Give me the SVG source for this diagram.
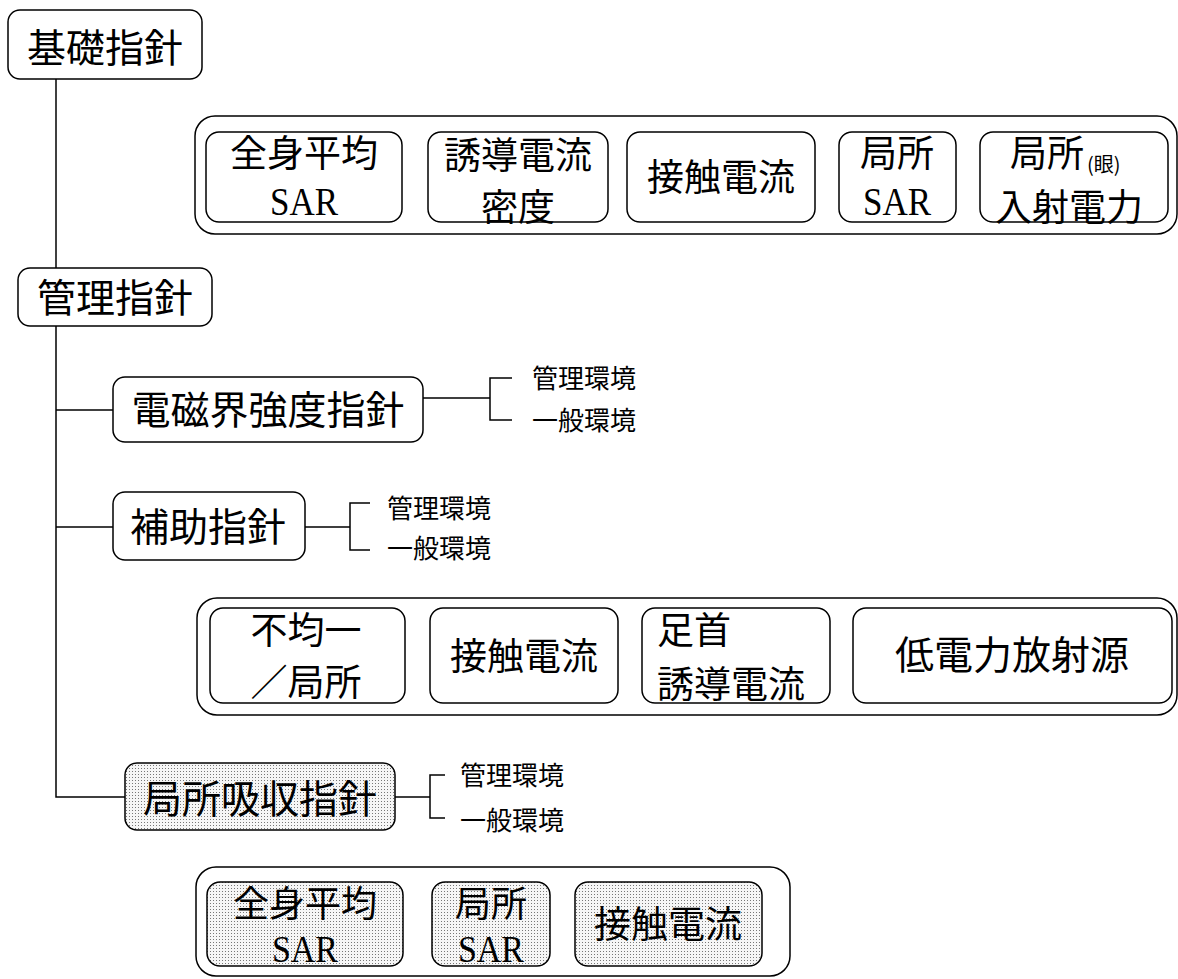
<svg xmlns="http://www.w3.org/2000/svg" width="1178" height="979" viewBox="0 0 1178 979">
<defs>
<pattern id="dots" width="3" height="3" patternUnits="userSpaceOnUse">
<rect width="3" height="3" fill="#f6f6f6"/>
<rect width="1" height="1" fill="#777"/>
</pattern>
</defs>
<style>
.box{fill:#fff;stroke:#000;stroke-width:1.5}
.sh{fill:url(#dots);stroke:#000;stroke-width:1.5}
.cont{fill:none;stroke:#000;stroke-width:1.5}
.ln{fill:none;stroke:#000;stroke-width:1.5}
text{font-family:"Noto Sans CJK JP","Noto Sans CJK SC",sans-serif;fill:#000}
.t{font-size:39px;text-anchor:middle}
.m{font-size:37px;text-anchor:middle}
.m2{font-size:36px;text-anchor:middle}
.ms{font-size:37px;text-anchor:start}
.s{font-family:"Liberation Serif",serif;font-size:40px;text-anchor:middle}
.s2{font-family:"Liberation Serif",serif;font-size:37px;text-anchor:middle}
.l{font-size:26px;text-anchor:start}
.e{font-size:20px}
</style>
<rect width="1178" height="979" fill="#fff"/>
<g id="connectors">
<path class="ln" d="M56 79 V268"/>
<path class="ln" d="M56 326 V797 H125"/>
<path class="ln" d="M56 410 H113"/>
<path class="ln" d="M56 527 H113"/>
<path class="ln" d="M423 398 H490 M512 378 H490 V420 H512"/>
<path class="ln" d="M305 527 H350 M370 503 H350 V550 H370"/>
<path class="ln" d="M395 797 H430 M445 775 H430 V818 H445"/>
</g>
<g id="n-kiso">
<rect class="box" x="8" y="10" width="194" height="69" rx="12"/>
<text class="t" x="105" y="62">基礎指針</text>
</g>
<g id="group-kiso">
<rect class="cont" x="195" y="116" width="982" height="118" rx="20"/>
<g id="k1"><rect class="box" x="206" y="132" width="196" height="90" rx="13"/>
<text class="m" x="304" y="167">全身平均</text><text class="s" x="304" y="215" textLength="68" lengthAdjust="spacingAndGlyphs">SAR</text></g>
<g id="k2"><rect class="box" x="428" y="132" width="180" height="90" rx="13"/>
<text class="m" x="518" y="169">誘導電流</text><text class="m" x="518" y="221">密度</text></g>
<g id="k3"><rect class="box" x="627" y="132" width="188" height="90" rx="13"/>
<text class="m" x="721" y="191">接触電流</text></g>
<g id="k4"><rect class="box" x="839" y="132" width="117" height="90" rx="13"/>
<text class="m" x="897" y="167">局所</text><text class="s" x="897" y="215" textLength="68" lengthAdjust="spacingAndGlyphs">SAR</text></g>
<g id="k5"><rect class="box" x="980" y="132" width="188" height="90" rx="13"/>
<text class="ms" x="1010" y="167">局所<tspan class="e" dx="3" dy="5">(眼)</tspan></text>
<text class="m" x="1069" y="221">入射電力</text></g>
</g>
<g id="n-kanri">
<rect class="box" x="18" y="268" width="194" height="58" rx="12"/>
<text class="t" x="115" y="312">管理指針</text>
</g>
<g id="n-denji">
<rect class="box" x="113" y="377" width="310" height="65" rx="12"/>
<text class="t" x="268" y="424">電磁界強度指針</text>
<text class="l" x="532" y="388">管理環境</text>
<text class="l" x="532" y="430">一般環境</text>
</g>
<g id="n-hojo">
<rect class="box" x="113" y="492" width="192" height="68" rx="12"/>
<text class="t" x="208" y="541">補助指針</text>
<text class="l" x="387" y="518">管理環境</text>
<text class="l" x="387" y="558">一般環境</text>
</g>
<g id="group-hojo">
<rect class="cont" x="197" y="598" width="980" height="117" rx="20"/>
<g id="h1"><rect class="box" x="210" y="608" width="195" height="95" rx="13"/>
<text class="m" x="306" y="644">不均一</text><text class="m" x="306" y="696">／局所</text></g>
<g id="h2"><rect class="box" x="430" y="608" width="188" height="95" rx="13"/>
<text class="m" x="524" y="670">接触電流</text></g>
<g id="h3"><rect class="box" x="642" y="608" width="188" height="95" rx="13"/>
<text class="ms" x="657" y="644">足首</text><text class="ms" x="657" y="698">誘導電流</text></g>
<g id="h4"><rect class="box" x="853" y="608" width="319" height="95" rx="13"/>
<text class="t" x="1012" y="669">低電力放射源</text></g>
</g>
<g id="n-kyoku">
<rect class="sh" x="125" y="763" width="270" height="67" rx="12"/>
<text class="t" x="260" y="813">局所吸収指針</text>
<text class="l" x="460" y="785">管理環境</text>
<text class="l" x="460" y="830">一般環境</text>
</g>
<g id="group-kyoku">
<rect class="cont" x="196" y="867" width="594" height="109" rx="20"/>
<g id="y1"><rect class="sh" x="207" y="882" width="196" height="84" rx="13"/>
<text class="m2" x="305" y="917">全身平均</text><text class="s2" x="305" y="962" textLength="66" lengthAdjust="spacingAndGlyphs">SAR</text></g>
<g id="y2"><rect class="sh" x="432" y="882" width="118" height="84" rx="13"/>
<text class="m2" x="491" y="917">局所</text><text class="s2" x="491" y="962" textLength="66" lengthAdjust="spacingAndGlyphs">SAR</text></g>
<g id="y3"><rect class="sh" x="575" y="882" width="187" height="84" rx="13"/>
<text class="m" x="668" y="938">接触電流</text></g>
</g>
</svg>
